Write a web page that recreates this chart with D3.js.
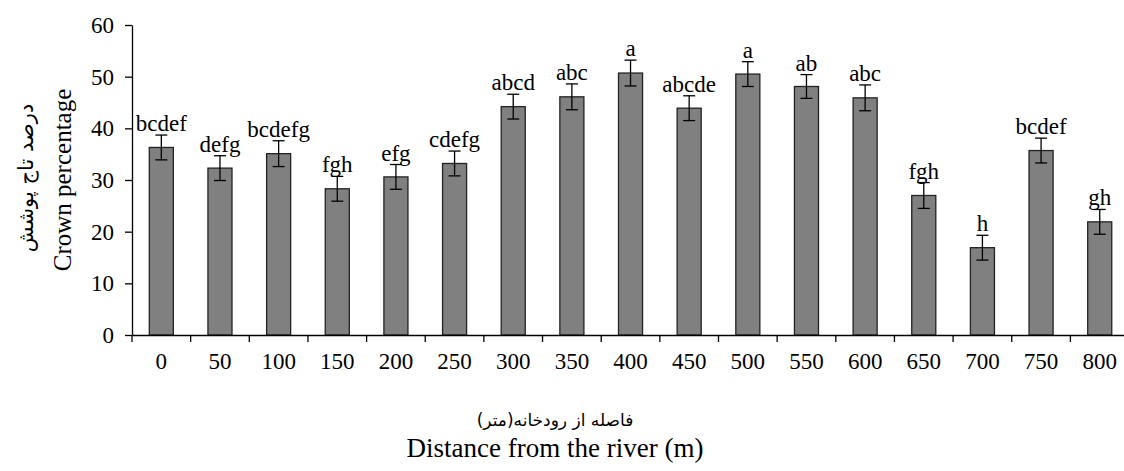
<!DOCTYPE html>
<html>
<head>
<meta charset="utf-8">
<script src="https://cdn.jsdelivr.net/npm/d3@7"></script>
<style>
  body { margin: 0; background: #fff; }
  svg text { font-family: "Liberation Serif", "Times New Roman", serif; fill: #000; }
  .fa { font-family: "DejaVu Sans", sans-serif; }
</style>
</head>
<body>
<svg id="chart" width="1124" height="471"></svg>
<script>
// distance from the river (m)
var distances = ["0", "50", "100", "150", "200", "250", "300", "350", "400",
                 "450", "500", "550", "600", "650", "700", "750", "800"];
// crown percentage (mean)
var crown = [36.3, 32.3, 35.1, 28.3, 30.6, 33.2, 44.2, 46.1, 50.7,
             43.9, 50.5, 48.1, 45.9, 27.0, 16.9, 35.7, 21.9];
// standard error
var stdErr = [2.4, 2.4, 2.5, 2.4, 2.4, 2.4, 2.4, 2.5, 2.5,
              2.4, 2.4, 2.3, 2.5, 2.5, 2.4, 2.4, 2.4];
// Duncan letters
var letters = ["bcdef", "defg", "bcdefg", "fgh", "efg", "cdefg", "abcd", "abc", "a",
               "abcde", "a", "ab", "abc", "fgh", "h", "bcdef", "gh"];
var yTicks = [0, 10, 20, 30, 40, 50, 60];

var svg = d3.select("#chart");
var plotLeft = 132, plotTop = 25, plotBottom = 335;
var bandW = 58.65;
var plotRight = plotLeft + bandW * distances.length;

var xScale = d3.scaleBand()
    .domain(distances)
    .range([plotLeft, plotRight])
    .paddingInner(0.59)
    .paddingOuter(0.295);

var yScale = d3.scaleLinear()
    .domain([0, 60])
    .range([plotBottom, plotTop]);

// bars
svg.selectAll("rect.bar")
   .data(crown)
   .enter()
   .append("rect")
   .attr("class", "bar")
   .attr("x", function(d, i) { return xScale(distances[i]); })
   .attr("y", function(d) { return yScale(d); })
   .attr("width", xScale.bandwidth())
   .attr("height", function(d) { return plotBottom - yScale(d); })
   .attr("fill", "#808080")
   .attr("stroke", "#222")
   .attr("stroke-width", 1.3);

// error bars
var capHalf = 6;
var err = svg.append("g").attr("stroke", "#000").attr("stroke-width", 1.3);
crown.forEach(function(d, i) {
    var cx = xScale(distances[i]) + xScale.bandwidth() / 2;
    var y1 = yScale(d + stdErr[i]), y2 = yScale(d - stdErr[i]);
    err.append("line").attr("x1", cx).attr("x2", cx).attr("y1", y1).attr("y2", y2);
    err.append("line").attr("x1", cx - capHalf).attr("x2", cx + capHalf).attr("y1", y1).attr("y2", y1);
    err.append("line").attr("x1", cx - capHalf).attr("x2", cx + capHalf).attr("y1", y2).attr("y2", y2);
});

// letters
svg.selectAll("text.letter")
   .data(letters)
   .enter()
   .append("text")
   .attr("class", "letter")
   .attr("x", function(d, i) { return xScale(distances[i]) + xScale.bandwidth() / 2; })
   .attr("y", function(d, i) { return yScale(crown[i] + stdErr[i]) - 4; })
   .attr("text-anchor", "middle")
   .style("font-size", "23px")
   .text(function(d) { return d; });

// axes
var xAxis = d3.axisBottom(xScale).tickSize(0).tickPadding(18);
var gx = svg.append("g")
   .attr("transform", "translate(0," + plotBottom + ")")
   .call(xAxis);
gx.select(".domain").attr("stroke", "#000").attr("stroke-width", 1.3);
gx.selectAll("text").style("font-size", "23px");

// x tick marks at band boundaries
var bounds = d3.range(distances.length + 1).map(function(i) { return plotLeft + i * bandW; });
svg.append("g").selectAll("line")
   .data(bounds)
   .enter()
   .append("line")
   .attr("x1", function(d) { return d; })
   .attr("x2", function(d) { return d; })
   .attr("y1", plotBottom)
   .attr("y2", plotBottom + 7)
   .attr("stroke", "#000")
   .attr("stroke-width", 1.3);

var yAxis = d3.axisLeft(yScale).tickValues(yTicks).tickSize(7).tickSizeOuter(0).tickPadding(11);
var gy = svg.append("g")
   .attr("transform", "translate(" + plotLeft + ",0)")
   .call(yAxis);
gy.select(".domain").attr("stroke", "#000").attr("stroke-width", 1.3);
gy.selectAll("line").attr("stroke", "#000").attr("stroke-width", 1.3);
gy.selectAll("text").style("font-size", "23px");

// axis titles
svg.append("text")
   .attr("transform", "translate(71,180) rotate(-90)")
   .attr("text-anchor", "middle")
   .style("font-size", "25px")
   .text("Crown percentage");

svg.append("text")
   .attr("class", "fa")
   .attr("transform", "translate(33,178) rotate(-90)")
   .attr("text-anchor", "middle")
   .attr("direction", "rtl")
   .style("font-size", "21px")
   .text("درصد تاج پوشش");

svg.append("text")
   .attr("class", "fa")
   .attr("x", 555)
   .attr("y", 426)
   .attr("text-anchor", "middle")
   .attr("direction", "rtl")
   .style("font-size", "17px")
   .text("فاصله از رودخانه(متر)");

svg.append("text")
   .attr("x", 555)
   .attr("y", 457)
   .attr("text-anchor", "middle")
   .style("font-size", "27px")
   .text("Distance from the river (m)");
</script>
</body>
</html>
